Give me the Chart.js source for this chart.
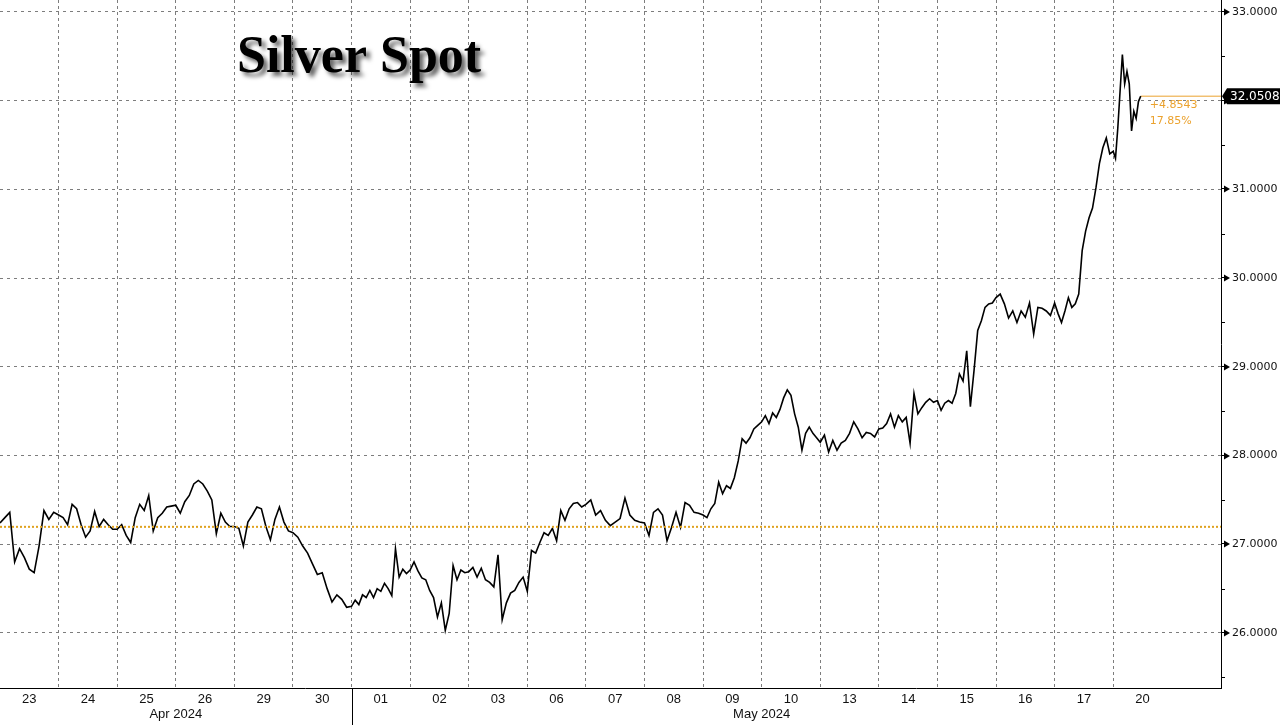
<!DOCTYPE html>
<html>
<head>
<meta charset="utf-8">
<script src="https://cdn.jsdelivr.net/npm/chart.js@4/dist/chart.umd.min.js"></script>
<style>
  html, body { margin: 0; padding: 0; background: #fff; }
  #wrap { position: relative; width: 1280px; height: 725px; }
</style>
</head>
<body>
<div id="wrap"><canvas id="silverChart" width="1280" height="725"></canvas></div>
<script>
// Day labels on the x axis (trading days)
const dayLabels = ['23', '24', '25', '26', '29', '30', '01', '02', '03', '06',
                   '07', '08', '09', '10', '13', '14', '15', '16', '17', '20'];
const monthLabels = ['Apr 2024', 'May 2024'];
const monthStartDay = [0, 6];
const monthEndDay = [6, 20];

// Right axis ticks
const yTicks = [26, 27, 28, 29, 30, 31, 32, 33];

// Silver spot price, intraday readings per day
const d23 = [27.24, 27.30, 27.36, 26.80, 26.95, 26.85, 26.72, 26.68, 26.98, 27.38, 27.28, 27.36];
const d24 = [27.33, 27.30, 27.22, 27.45, 27.40, 27.22, 27.08, 27.15, 27.37, 27.20, 27.28, 27.22, 27.17];
const d25 = [27.17, 27.22, 27.10, 27.02, 27.30, 27.45, 27.38, 27.55, 27.15, 27.30, 27.35, 27.42, 27.43];
const d26 = [27.44, 27.35, 27.48, 27.55, 27.68, 27.72, 27.68, 27.60, 27.50, 27.12, 27.35, 27.25, 27.20];
const d29 = [27.20, 27.18, 26.98, 27.25, 27.33, 27.42, 27.40, 27.20, 27.05, 27.28, 27.42, 27.25, 27.15];
const d30 = [27.13, 27.08, 26.98, 26.90, 26.78, 26.66, 26.68, 26.50, 26.35, 26.43, 26.38, 26.29];
const d01 = [26.30, 26.37, 26.32, 26.43, 26.40, 26.48, 26.40, 26.50, 26.47, 26.56, 26.50, 26.42, 26.95, 26.63, 26.72, 26.67];
const d02 = [26.71, 26.80, 26.70, 26.62, 26.60, 26.48, 26.40, 26.18, 26.34, 26.03, 26.22, 26.76, 26.60, 26.71, 26.68];
const d03 = [26.69, 26.74, 26.63, 26.73, 26.60, 26.57, 26.52, 26.88, 26.15, 26.34, 26.45, 26.48, 26.57, 26.63];
const d06 = [26.47, 26.93, 26.90, 27.02, 27.13, 27.10, 27.18, 27.04, 27.38, 27.27, 27.40, 27.46, 27.47, 27.42];
const d07 = [27.45, 27.50, 27.33, 27.38, 27.27, 27.21, 27.25, 27.29, 27.52, 27.33, 27.27, 27.25];
const d08 = [27.24, 27.10, 27.36, 27.40, 27.33, 27.04, 27.19, 27.36, 27.19, 27.47, 27.44, 27.36, 27.35];
const d09 = [27.33, 27.30, 27.40, 27.46, 27.70, 27.57, 27.66, 27.63, 27.75, 27.94, 28.19, 28.14, 28.20, 28.30, 28.34];
const d10 = [28.38, 28.45, 28.36, 28.48, 28.43, 28.52, 28.65, 28.74, 28.68, 28.47, 28.32, 28.06, 28.25, 28.32, 28.25, 28.20];
const d13 = [28.15, 28.23, 28.04, 28.17, 28.06, 28.14, 28.17, 28.25, 28.38, 28.30, 28.20, 28.26, 28.25, 28.21];
const d14 = [28.30, 28.31, 28.36, 28.47, 28.32, 28.45, 28.38, 28.43, 28.14, 28.70, 28.47, 28.54, 28.60, 28.64, 28.60];
const d15 = [28.62, 28.51, 28.59, 28.62, 28.59, 28.70, 28.92, 28.84, 29.18, 28.55, 28.96, 29.41, 29.52, 29.67, 29.71, 29.72];
const d16 = [29.78, 29.82, 29.71, 29.55, 29.63, 29.50, 29.63, 29.56, 29.72, 29.37, 29.67, 29.66, 29.63, 29.58];
const d17 = [29.72, 29.60, 29.50, 29.63, 29.78, 29.67, 29.71, 29.82, 30.31, 30.53, 30.68, 30.79, 31.02, 31.29, 31.47, 31.58, 31.40];
const d20 = [31.43, 31.35, 31.69, 32.11, 32.52, 32.19, 32.33, 32.19, 31.66, 31.88, 31.80, 31.99, 32.0508];

const startPrice = 27.1965;
const lastPrice = 32.0508;
const changeText = '+4.8543';
const changePctText = '17.85%';
const chartTitle = 'Silver Spot';

// axis range
const xMax = 20.84;
const yMin = 25.38;
const yMax = 33.135;
// the last day is only partly traded
const lastDaySpan = 0.47;

const allDays = [d23, d24, d25, d26, d29, d30, d01, d02, d03, d06,
                 d07, d08, d09, d10, d13, d14, d15, d16, d17, d20];

// build the {x, y} points: x = day index + fraction of the day
const series = [];
allDays.forEach((vals, d) => {
    const isLast = d === allDays.length - 1;
    vals.forEach((v, j) => {
        const frac = isLast ? j / (vals.length - 1) * lastDaySpan : j / vals.length;
        series.push({ x: d + frac, y: v });
    });
});
const lastPoint = series[series.length - 1];

const orange = '#eba22e';
const gridGrey = '#7d7d7d';
const narrowFont = '"Liberation Sans Narrow", "Liberation Sans", Arial, sans-serif';

// extra drawing: title, months, axis arrows, last price box
const extras = {
    id: 'extras',
    afterDraw(chart) {
        const { ctx, chartArea, scales: { x, y } } = chart;

        // title with shadow
        ctx.save();
        ctx.font = 'bold 52px "Liberation Serif", "Times New Roman", serif';
        ctx.fillStyle = '#000';
        ctx.textBaseline = 'alphabetic';
        ctx.shadowColor = 'rgba(0, 0, 0, 0.6)';
        ctx.shadowBlur = 4;
        ctx.shadowOffsetX = 4;
        ctx.shadowOffsetY = 4;
        ctx.fillText(chartTitle, 237, 72);
        ctx.restore();

        ctx.save();
        // month labels
        ctx.font = '13px ' + narrowFont;
        ctx.fillStyle = '#111';
        ctx.textAlign = 'center';
        ctx.textBaseline = 'middle';
        monthLabels.forEach((m, i) => {
            const mid = (monthStartDay[i] + monthEndDay[i]) / 2;
            ctx.fillText(m, x.getPixelForValue(mid), chartArea.bottom + 26);
        });
        // month separator below the axis
        ctx.strokeStyle = '#000';
        ctx.lineWidth = 1;
        const sepX = Math.round(x.getPixelForValue(monthStartDay[1])) + 0.5;
        ctx.beginPath();
        ctx.moveTo(sepX, chartArea.bottom);
        ctx.lineTo(sepX, chart.height);
        ctx.stroke();

        // right axis: arrows on major ticks, small marks on half values
        const ax = chartArea.right;
        ctx.fillStyle = '#000';
        yTicks.forEach(v => {
            const py = Math.round(y.getPixelForValue(v));
            ctx.beginPath();
            ctx.moveTo(ax, py - 0.5);
            ctx.lineTo(ax + 4, py - 0.5);
            ctx.stroke();
            ctx.beginPath();
            ctx.moveTo(ax + 3, py - 3.5);
            ctx.lineTo(ax + 9, py);
            ctx.lineTo(ax + 3, py + 3.5);
            ctx.closePath();
            ctx.fill();
            const half = y.getPixelForValue(v - 0.5);
            if (half <= chartArea.bottom) {
                ctx.beginPath();
                ctx.moveTo(ax, Math.round(half) + 0.5);
                ctx.lineTo(ax + 4, Math.round(half) + 0.5);
                ctx.stroke();
            }
        });

        // last price box
        const ly = y.getPixelForValue(lastPrice);
        ctx.fillStyle = '#000';
        ctx.beginPath();
        ctx.moveTo(ax + 1, ly);
        ctx.lineTo(ax + 6, ly - 8);
        ctx.lineTo(chart.width, ly - 8);
        ctx.lineTo(chart.width, ly + 8);
        ctx.lineTo(ax + 6, ly + 8);
        ctx.closePath();
        ctx.fill();
        ctx.font = '12px "DejaVu Sans", Verdana, sans-serif';
        ctx.fillStyle = '#fff';
        ctx.textAlign = 'left';
        ctx.fillText(lastPrice.toFixed(4), ax + 9, ly + 1);

        // change annotation
        const lx = x.getPixelForValue(lastPoint.x);
        ctx.font = '11px "DejaVu Sans", Verdana, sans-serif';
        ctx.fillStyle = orange;
        ctx.fillText(changeText, lx + 9, ly + 9);
        ctx.fillText(changePctText, lx + 9, ly + 25);
        ctx.restore();
    }
};

const ctx = document.getElementById('silverChart').getContext('2d');
const silverChart = new Chart(ctx, {
    type: 'line',
    data: {
        datasets: [
            {
                label: 'Start',
                data: [{ x: 0, y: startPrice }, { x: xMax, y: startPrice }],
                borderColor: '#e0a21e',
                borderWidth: 2,
                borderDash: [2, 2],
                pointRadius: 0,
                order: 0
            },
            {
                label: 'Silver Spot',
                data: series,
                borderColor: '#000',
                borderWidth: 1.6,
                pointRadius: 0,
                tension: 0,
                order: 1
            },
            {
                label: 'Last',
                data: [{ x: lastPoint.x, y: lastPrice }, { x: xMax, y: lastPrice }],
                borderColor: orange,
                borderWidth: 1,
                pointRadius: 0,
                order: 2
            }
        ]
    },
    options: {
        responsive: false,
        animation: false,
        layout: { padding: 0 },
        plugins: {
            legend: { display: false },
            tooltip: { enabled: false }
        },
        scales: {
            x: {
                type: 'linear',
                min: 0,
                max: xMax,
                afterBuildTicks: s => { s.ticks = dayLabels.map((l, i) => ({ value: i + 0.5 })); },
                afterFit: s => { s.height = 37; s.paddingLeft = 0; s.paddingRight = 0; },
                ticks: {
                    autoSkip: false,
                    maxRotation: 0,
                    padding: 4,
                    color: '#111',
                    font: { family: narrowFont, size: 13 },
                    callback: (v, i) => dayLabels[i]
                },
                grid: {
                    offset: true,
                    drawTicks: false,
                    lineWidth: 1,
                    color: c => c.type === 'tick' ? gridGrey : 'rgba(0,0,0,0)'
                },
                border: { display: true, color: '#000', width: 1, dash: [3, 3] }
            },
            y: {
                position: 'right',
                min: yMin,
                max: yMax,
                afterBuildTicks: s => { s.ticks = yTicks.map(v => ({ value: v })); },
                afterFit: s => { s.width = 59; s.paddingTop = 0; s.paddingBottom = 0; },
                ticks: {
                    padding: 11,
                    color: '#111',
                    font: { family: '"DejaVu Sans", Verdana, sans-serif', size: 11 },
                    callback: v => v.toFixed(4)
                },
                grid: { drawTicks: false, color: gridGrey, lineWidth: 1 },
                border: { display: true, color: '#000', width: 1, dash: [3, 4] }
            }
        }
    },
    plugins: [extras]
});
</script>
</body>
</html>
